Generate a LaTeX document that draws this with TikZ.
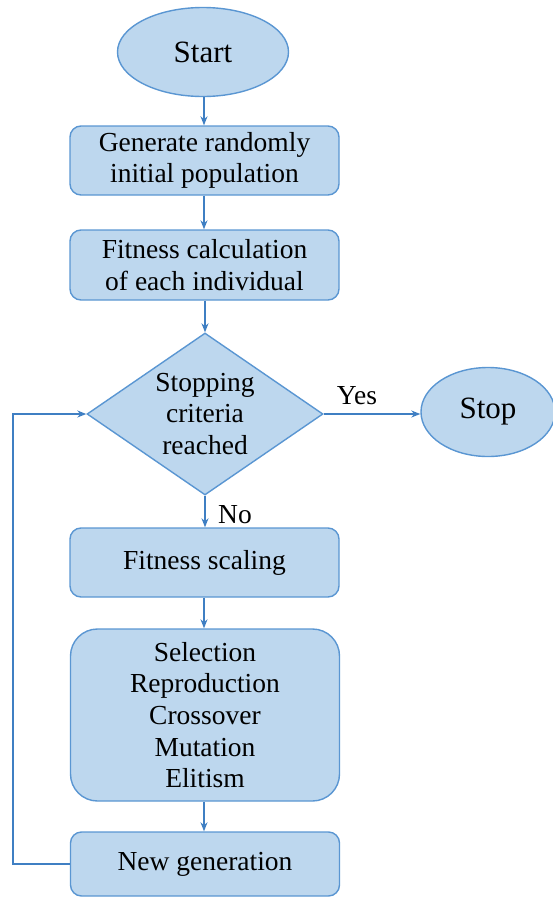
\documentclass[tikz,border=0pt]{standalone}
\usepackage{fontspec}
\setmainfont{Liberation Serif}
\usetikzlibrary{shapes.geometric,arrows.meta}
\definecolor{boxfill}{HTML}{BDD7EE}
\definecolor{boxline}{HTML}{5A96D2}
\definecolor{arrowc}{HTML}{3F7FC3}
\tikzset{
  base/.style={draw=boxline, fill=boxfill, line width=1.4pt, inner sep=0pt, align=center,
    font=\rmfamily\fontsize{27.5}{31.7}\selectfont},
  term/.style={base, ellipse, font=\rmfamily\fontsize{31}{36}\selectfont},
  procbox/.style={base, rectangle, rounded corners=11pt, minimum width=269pt},
  decide/.style={base, diamond, minimum width=236pt, minimum height=162pt, aspect=1.45},
  conn/.style={draw=arrowc, line width=1.3pt, -{Stealth[length=9pt,width=7pt]}},
  lbl/.style={font=\rmfamily\fontsize{27.5}{30}\selectfont, inner sep=0pt}
}
\begin{document}
\begin{tikzpicture}[x=1pt,y=-1pt]
\useasboundingbox (0,0) rectangle (552,897);
\node[term, minimum width=171pt, minimum height=89pt] (start) at (203,52) {Start};
\node[procbox, minimum height=69pt] (gen) at (204.5,160.5) {Generate randomly\\initial population};
\node[procbox, minimum height=70pt] (fit) at (204.5,265) {Fitness calculation\\of each individual};
\node[decide] (dec) at (205,414) {Stopping\\criteria\\reached};
\node[term, minimum width=134pt, minimum height=89pt] (stop) at (488,412) {Stop};
\node[procbox, minimum height=69pt] (scal) at (204.5,562.5) {Fitness scaling};
\node[procbox, minimum height=172pt, rounded corners=27pt] (sel) at (205,715) {Selection\\Reproduction\\Crossover\\Mutation\\Elitism};
\node[procbox, minimum height=64pt] (newg) at (205,864) {New generation};
\coordinate (lb) at (13,864);
\coordinate (lt) at (13,414);

\draw[conn] (start.south -| 204,0) -- (gen.north -| 204,0);
\draw[conn] (gen.south -| 204,0) -- (fit.north -| 204,0);
\draw[conn] (fit.south -| 205,0) -- (dec.north);
\draw[conn] (dec.east) -- (stop.west |- dec.east);
\draw[conn] (dec.south) -- (scal.north -| dec.south);
\draw[conn] (scal.south -| 204,0) -- (sel.north -| 204,0);
\draw[conn] (sel.south -| 204,0) -- (newg.north -| 204,0);
\draw[conn] (newg.west) -- (lb) -- (lt) -- (dec.west);

\node[lbl] (yes) at (357,396) {Yes};
\node[lbl] (no) at (235,515) {No};
\end{tikzpicture}
\end{document}
